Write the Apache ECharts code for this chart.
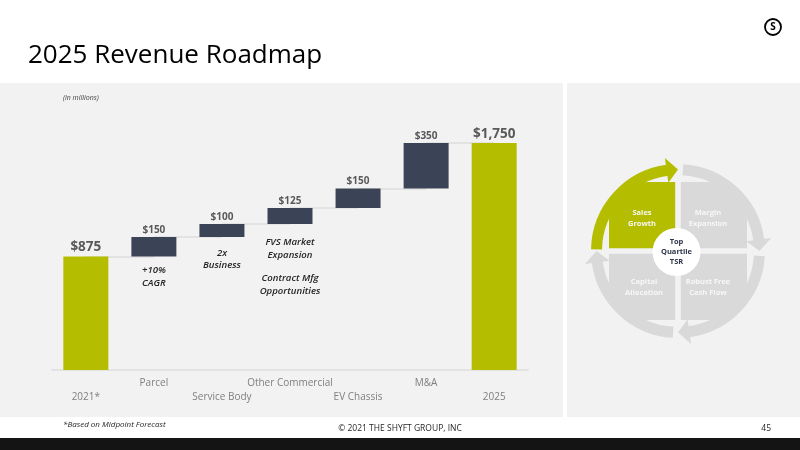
<!DOCTYPE html>
<html>
<head>
<meta charset="utf-8">
<script src="https://cdn.jsdelivr.net/npm/echarts@6/dist/echarts.min.js"></script>
<style>html,body{margin:0;padding:0;background:#fff}#main{width:800px;height:450px}</style>
</head>
<body>
<div id="main"></div>
<script>
// ---- data ----
const categories = ['2021*', 'Parcel', 'Service Body', 'Other Commercial', 'EV Chassis', 'M&A', '2025'];
const totals = [875, null, null, null, null, null, 1750];
const increments = [null, 150, 100, 125, 150, 350, null];
const noteCategories = ['Parcel', 'Service Body', 'Other Commercial', 'Other Commercial'];
const noteValues = [719, 852, 935, 659];
const noteTexts = ['+10%\nCAGR', '2x\nBusiness', 'FVS Market\nExpansion', 'Contract Mfg\nOpportunities'];
const quadrantNames = ['Sales\nGrowth', 'Margin\nExpansion', 'Robust Free\nCash Flow', 'Capital\nAllocation'];

// ---- derived ----
const base = [];
const levels = [];
let run = 0;
categories.forEach((c, i) => {
  if (totals[i] != null) { base.push(0); run = totals[i]; }
  else { base.push(run); run += increments[i]; }
  levels.push(run);
});
const connectors = [];
for (let i = 0; i < categories.length - 1; i++) {
  connectors.push([{ coord: [i, levels[i]] }, { coord: [i + 1, levels[i]] }]);
}
const money = v => '$' + Number(v).toLocaleString('en-US');

const GREEN = '#b5bd00', NAVY = '#3b4457', GREY = '#d9d9d9';
const FONT = '"Open Sans", sans-serif';

// ---- cycle diagram (decorative) ----
const cx = 678, cy = 251, half = 69, gap = 2.8, cr = 38;
const diagram = [];
const qSize = half - gap;
const qRects = [
  { x: cx - half, y: cy - half, r: [cr, 0, 0, 0], fill: GREEN },
  { x: cx + gap, y: cy - half, r: [0, cr, 0, 0], fill: GREY },
  { x: cx + gap, y: cy + gap, r: [0, 0, cr, 0], fill: GREY },
  { x: cx - half, y: cy + gap, r: [0, 0, 0, cr], fill: GREY }
];
qRects.forEach(q => diagram.push({
  type: 'rect', z: 5, silent: true,
  shape: { x: q.x, y: q.y, width: qSize, height: qSize, r: q.r },
  style: { fill: q.fill }
}));
const labelPos = [[-36, -33], [30, -33], [30, 36], [-34, 36]];
quadrantNames.forEach((t, i) => diagram.push({
  type: 'text', z: 7, silent: true,
  style: { x: cx + labelPos[i][0], y: cy + labelPos[i][1], text: t, fill: '#f7f7f7',
    font: 'bold 7.5px ' + FONT, textAlign: 'center', textVerticalAlign: 'middle', lineHeight: 11 }
}));
diagram.push({ type: 'circle', z: 8, silent: true, shape: { cx: cx - 1.5, cy: cy + 1, r: 24 }, style: { fill: '#fff' } });
diagram.push({ type: 'text', z: 9, silent: true,
  style: { x: cx - 1.5, y: cy + 1, text: 'Top\nQuartile\nTSR', fill: '#2e3647',
    font: 'bold 7.5px ' + FONT, textAlign: 'center', textVerticalAlign: 'middle', lineHeight: 10 } });
const rMid = 81.5, ringW = 11;
for (let k = 0; k < 4; k++) {
  const q0 = Math.PI + k * Math.PI / 2;
  const start = q0 + (k === 0 ? 0.02 : 0.06);
  const tip = q0 + Math.PI / 2;
  const baseA = tip - 0.14;
  const col = k === 0 ? GREEN : GREY;
  diagram.push({ type: 'arc', z: 4, silent: true,
    shape: { cx: cx, cy: cy, r: rMid, startAngle: start, endAngle: baseA + 0.01, clockwise: true },
    style: { stroke: col, lineWidth: ringW, fill: null, lineCap: 'butt' } });
  const p = (a, r) => [cx + r * Math.cos(a), cy + r * Math.sin(a)];
  diagram.push({ type: 'polygon', z: 4, silent: true,
    shape: { points: [p(baseA, rMid - 12.5), p(baseA, rMid + 12.5), p(tip, rMid)] },
    style: { fill: col } });
}

const chart = echarts.init(document.getElementById('main'), null, { renderer: 'canvas' });
chart.setOption({
  animation: false,
  backgroundColor: '#ffffff',
  textStyle: { fontFamily: FONT },
  grid: { left: 51.8, right: 271.8, top: 110.6, bottom: 80 },
  xAxis: {
    type: 'category', data: categories,
    axisTick: { show: false },
    axisLine: { lineStyle: { color: '#dedede', width: 1.5 } },
    axisLabel: {
      interval: 0, margin: 6, color: '#7f7f7f', fontSize: 10, lineHeight: 14, fontFamily: FONT,
      formatter: (v, i) => (i % 2 ? v : '\n' + v)
    }
  },
  yAxis: { type: 'value', min: 0, max: 2000, show: false, splitLine: { show: false } },
  series: [
    {
      name: 'base', type: 'bar', stack: 'w', z: 1, barWidth: 45, data: base,
      itemStyle: { color: 'transparent' }, silent: true,
      markLine: {
        silent: true, z: 1, symbol: ['none', 'none'], label: { show: false },
        lineStyle: { color: '#dcdcdc', type: 'solid', width: 1.5 },
        data: connectors
      }
    },
    {
      name: 'total', type: 'bar', stack: 'w', z: 3, barWidth: 45, data: totals,
      itemStyle: { color: GREEN },
      label: { show: true, position: 'top', distance: 2, formatter: p => money(p.value),
        color: '#595959', fontSize: 13.5, fontWeight: 'bold', fontFamily: FONT }
    },
    {
      name: 'increment', type: 'bar', stack: 'w', z: 3, barWidth: 45, data: increments,
      itemStyle: { color: NAVY },
      label: { show: true, position: 'top', distance: 2, formatter: p => money(p.value),
        color: '#595959', fontSize: 10, fontWeight: 'bold', fontFamily: FONT },
      markPoint: {
        symbol: 'circle', symbolSize: 0, silent: true,
        label: { show: true, position: 'inside', formatter: p => p.name, color: '#262626',
          fontSize: 9.6, fontStyle: 'italic', fontWeight: 600, lineHeight: 12.5, fontFamily: FONT, align: 'center' },
        data: noteTexts.map((t, i) => ({ name: t, coord: [noteCategories[i], noteValues[i]] }))
      }
    }
  ],
  graphic: [
    { type: 'rect', z: -10, silent: true, shape: { x: 0, y: 83, width: 563, height: 334 }, style: { fill: '#f2f2f2' } },
    { type: 'rect', z: -10, silent: true, shape: { x: 567, y: 83, width: 233, height: 334 }, style: { fill: '#f2f2f2' } },
    { type: 'rect', z: -10, silent: true, shape: { x: 0, y: 438, width: 800, height: 12 }, style: { fill: '#141414' } },
    { type: 'text', z: 5, silent: true, style: { x: 28, y: 56, text: '2025 Revenue Roadmap', fill: '#000',
      font: '26px ' + FONT, textVerticalAlign: 'middle' } },
    { type: 'circle', z: 5, silent: true, shape: { cx: 773, cy: 27, r: 8 }, style: { fill: '#fff', stroke: '#000', lineWidth: 1.8 } },
    { type: 'text', z: 6, silent: true, style: { x: 773, y: 27.5, text: 'S', fill: '#000', font: 'bold 10px ' + FONT,
      textAlign: 'center', textVerticalAlign: 'middle' } },
    { type: 'text', z: 5, silent: true, style: { x: 63, y: 98, text: '(in millions)', fill: '#404040',
      font: 'italic 7px ' + FONT, textVerticalAlign: 'middle' } },
    { type: 'text', z: 5, silent: true, style: { x: 63, y: 425, text: '*Based on Midpoint Forecast', fill: '#262626',
      font: 'italic 8px ' + FONT, textVerticalAlign: 'middle' } },
    { type: 'text', z: 5, silent: true, style: { x: 400, y: 429, text: '\u00a9 2021 THE SHYFT GROUP, INC', fill: '#262626',
      font: '8.5px ' + FONT, textAlign: 'center', textVerticalAlign: 'middle' } },
    { type: 'text', z: 5, silent: true, style: { x: 771, y: 429, text: '45', fill: '#262626',
      font: '8.5px ' + FONT, textAlign: 'right', textVerticalAlign: 'middle' } }
  ].concat(diagram)
});
</script>
</body>
</html>
